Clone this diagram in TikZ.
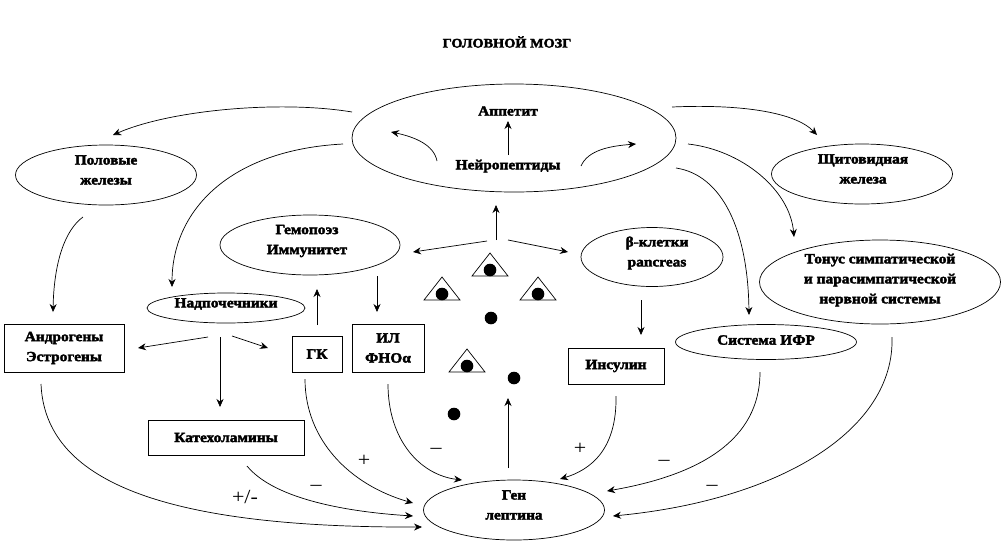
\documentclass[tikz,border=0pt]{standalone}
\usepackage{fontspec}
\setmainfont{Liberation Serif}[FakeStretch=1.1, BoldFeatures={FakeBold=2.6}]
\usetikzlibrary{arrows.meta,shapes.geometric}
\newcommand\tridot[2]{%
  \draw[thinl] (#1-18,#2+23) -- (#1,#2) -- (#1+18,#2+23) -- cycle;
  \fill (#1,#2+17) circle[radius=6.3];}
\begin{document}
\begin{tikzpicture}[x=1pt,y=-1pt,
  thinl/.style={line width=0.7pt},
  lbl/.style={font=\fontsize{14}{20}\selectfont\bfseries, align=center, inner sep=0},
  sgn/.style={font=\fontsize{20}{22}\selectfont, inner sep=0},
  ell/.style={draw, ellipse, thinl, inner sep=0},
  box/.style={draw, rectangle, thinl, inner sep=0, lbl},
  arr/.style={thinl, -{Stealth[length=8pt,width=7pt]}},
]
\useasboundingbox (0,0) rectangle (1008,552);
% title
\node[lbl, font=\fontsize{13}{16}\selectfont\bfseries] (title) at (507,42) {ГОЛОВНОЙ МОЗГ};
% brain ellipse
\node[ell, minimum width=324, minimum height=108] (brain) at (514,138) {};
\node[lbl] (app) at (508,111) {Аппетит};
\node[lbl] (neuro) at (508,166) {Нейропептиды};
% ellipses (shape) and their texts
\node[ell, minimum width=181, minimum height=60] (pol) at (106,175) {};
\node[lbl] (polt) at (106,170) {Половые\\железы};
\node[ell, minimum width=181, minimum height=60] (shit) at (862,174) {};
\node[lbl] (shitt) at (863,169) {Щитовидная\\железа};
\node[ell, minimum width=180, minimum height=60] (gem) at (310,245) {};
\node[lbl] (gemt) at (307,241) {Гемопоэз\\Иммунитет};
\node[ell, minimum width=142, minimum height=59] (beta) at (652,257) {};
\node[lbl] (betat) at (657,253) {β-клетки\\pancreas};
\node[ell, minimum width=241, minimum height=84] (ton) at (880,282) {};
\node[lbl] (tont) at (880,280) {Тонус симпатической\\и парасимпатической\\нервной системы};
\node[ell, minimum width=158, minimum height=30] (nadp) at (226,308) {};
\node[lbl] (nadpt) at (226,304) {Надпочечники};
\node[ell, minimum width=181, minimum height=35] (ifr) at (766,342) {};
\node[lbl] (ifrt) at (766,340) {Система ИФР};
\node[ell, minimum width=181, minimum height=60] (gen) at (514,510) {};
\node[lbl] (gent) at (514,505) {Ген\\лептина};
% boxes
\node[box, minimum width=120, minimum height=48] (andr) at (64,348) {Андрогены\\Эстрогены};
\node[box, minimum width=50, minimum height=36] (gk) at (317,354) {ГК};
\node[box, minimum width=72, minimum height=48] (il) at (388,348) {ИЛ\\ФНОα};
\node[box, minimum width=96, minimum height=36] (ins) at (616,366) {Инсулин};
\node[box, minimum width=156, minimum height=35] (kat) at (226,437.5) {Катехоламины};
% triangles and dots
\tridot{490}{253}
\tridot{442}{277}
\tridot{538}{277}
\tridot{467}{349}
\fill (491,318) circle[radius=6.3];
\fill (514,378) circle[radius=6.3];
\fill (454,414) circle[radius=6.3];
% coordinates
\coordinate (b1) at (352,112); \coordinate (p1) at (113,135);
\coordinate (b2) at (343,144); \coordinate (n1) at (172,287);
\coordinate (b3) at (672,107); \coordinate (s1) at (817,135);
\coordinate (b4) at (688,144); \coordinate (t1) at (794,237);
\coordinate (b5) at (676,168); \coordinate (i1) at (749,315);
\coordinate (nl) at (437,161); \coordinate (nlE) at (391,132);
\coordinate (nr) at (581,166); \coordinate (nrE) at (636,144);
\coordinate (nu) at (508,155); \coordinate (au) at (508,121);
\coordinate (p2) at (83,217); \coordinate (a1) at (53,312);
\coordinate (c0) at (496,240); \coordinate (cu) at (496,205);
\coordinate (cl0) at (487,241); \coordinate (cl) at (413,252);
\coordinate (cr0) at (508,240); \coordinate (cr) at (568,252);
\coordinate (gk1) at (317,325); \coordinate (gkE) at (317,289);
\coordinate (gm1) at (377,276); \coordinate (ilE) at (377,312);
\coordinate (bt1) at (641,300); \coordinate (insE) at (641,335);
\coordinate (nd1) at (208,337); \coordinate (andE) at (138,348);
\coordinate (nd2) at (220,337); \coordinate (katE) at (220,407);
\coordinate (nd3) at (232,336); \coordinate (gkE2) at (268,348);
\coordinate (g1) at (508,468); \coordinate (gu) at (508,398);
\coordinate (il1) at (388,384); \coordinate (gIL) at (462,480);
\coordinate (in1) at (616,396); \coordinate (gIN) at (560,479);
\coordinate (gk2) at (305,379); \coordinate (gGK) at (413,503);
\coordinate (kt1) at (247,466); \coordinate (gKT) at (413,516);
\coordinate (an1) at (41,384); \coordinate (gAN) at (422,527);
\coordinate (if1) at (760,372); \coordinate (gIF) at (607,491);
\coordinate (tn1) at (892,337); \coordinate (gTN) at (613,516);
% connectors
\draw[arr] (b1) .. controls (280,100) and (170,110) .. (p1);
\draw[arr] (b2) .. controls (230,150) and (172,210) .. (n1);
\draw[arr] (b3) .. controls (740,104) and (795,112) .. (s1);
\draw[arr] (b4) .. controls (742,150) and (790,190) .. (t1);
\draw[arr] (b5) .. controls (722,175) and (748,230) .. (i1);
\draw[arr] (nl) .. controls (434,145) and (415,137) .. (nlE);
\draw[arr] (nr) .. controls (588,150) and (610,146) .. (nrE);
\draw[arr] (nu) -- (au);
\draw[arr] (p2) .. controls (65,230) and (54,262) .. (a1);
\draw[arr] (c0) -- (cu);
\draw[arr] (cl0) -- (cl);
\draw[arr] (cr0) -- (cr);
\draw[arr] (gk1) -- (gkE);
\draw[arr] (gm1) -- (ilE);
\draw[arr] (bt1) -- (insE);
\draw[arr] (nd1) -- (andE);
\draw[arr] (nd2) -- (katE);
\draw[arr] (nd3) -- (gkE2);
\draw[arr] (g1) -- (gu);
\draw[arr] (il1) .. controls (388,440) and (420,475) .. (gIL);
\draw[arr] (in1) .. controls (617,450) and (590,470) .. (gIN);
\draw[arr] (gk2) .. controls (305,440) and (350,485) .. (gGK);
\draw[arr] (kt1) .. controls (275,500) and (350,512) .. (gKT);
\draw[arr] (an1) .. controls (45,480) and (160,528) .. (gAN);
\draw[arr] (if1) .. controls (760,440) and (700,475) .. (gIF);
\draw[arr] (tn1) .. controls (895,430) and (780,500) .. (gTN);
% signs
\node[sgn] (s-il) at (436,451) {–};
\node[sgn] (s-in) at (580,449) {+};
\node[sgn] (s-gk) at (364,461) {+};
\node[sgn] (s-kt) at (316,488) {–};
\node[sgn] (s-an) at (245,497) {+/-};
\node[sgn] (s-if) at (664,463) {–};
\node[sgn] (s-tn) at (712,488) {–};
\end{tikzpicture}
\end{document}
